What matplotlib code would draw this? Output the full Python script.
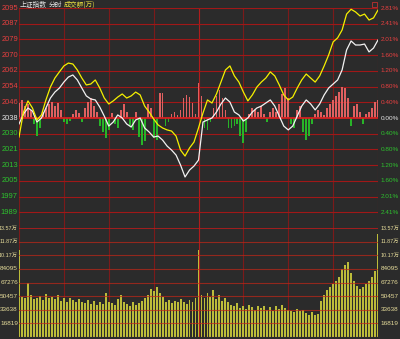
import numpy as np
import matplotlib
matplotlib.use("Agg")
import matplotlib.pyplot as plt
from matplotlib.transforms import blended_transform_factory
from matplotlib.patches import Rectangle

# ---------------- data ----------------
base_price = 2038.2
price_step = 8.18
left_labels = ["2095", "2087", "2079", "2070", "2062", "2054", "2046", "2038",
               "2030", "2021", "2013", "2005", "1997", "1989"]
right_labels = ["2.81%", "2.41%", "2.01%", "1.60%", "1.20%", "0.80%", "0.40%", "0.00%",
                "0.40%", "0.80%", "1.20%", "1.60%", "2.01%", "2.41%"]
vol_labels = ["13.57万", "11.87万", "10.17万", "84095", "67276", "50457", "33638", "16819"]
vol_top = 135750

line_minutes = list(range(0, 241, 3))
yellow_line = [
    2028.3, 2041.3, 2047.1, 2043.4, 2037.2, 2039.8, 2047.6, 2054.3, 2059.0, 2062.2,
    2065.3, 2066.8, 2066.3, 2063.2, 2059.0, 2055.4, 2055.9, 2058.0, 2053.8, 2048.6,
    2045.5, 2047.1, 2049.1, 2050.7, 2048.6, 2049.7, 2051.7, 2050.2, 2044.4, 2041.3,
    2037.7, 2034.6, 2033.0, 2032.0, 2031.4, 2028.8, 2021.5, 2018.4, 2022.6, 2025.7,
    2033.0, 2040.8, 2047.6, 2046.0, 2050.7, 2056.9, 2063.2, 2065.3, 2060.1, 2056.9,
    2051.7, 2047.1, 2050.2, 2054.3, 2056.9, 2059.0, 2062.2, 2060.1, 2055.4, 2050.2,
    2047.6, 2049.1, 2053.8, 2058.0, 2061.1, 2059.0, 2056.9, 2060.1, 2065.3, 2071.0,
    2077.8, 2079.9, 2084.0, 2092.3, 2094.8, 2093.4, 2091.3, 2092.3, 2089.2, 2090.3,
    2094.4]
white_line = [
    2035.1, 2040.3, 2043.4, 2041.8, 2036.1, 2038.2, 2043.4, 2048.6, 2051.7, 2053.8,
    2056.9, 2059.5, 2060.6, 2058.0, 2053.8, 2049.7, 2048.1, 2047.6, 2043.9, 2039.2,
    2034.0, 2036.1, 2039.8, 2038.2, 2035.1, 2033.5, 2037.2, 2038.2, 2033.0, 2030.9,
    2028.3, 2028.8, 2026.7, 2023.6, 2021.5, 2018.9, 2013.7, 2007.5, 2011.1, 2013.2,
    2016.3, 2036.1, 2037.2, 2038.2, 2041.3, 2045.5, 2048.6, 2046.5, 2041.3, 2039.8,
    2036.6, 2038.2, 2041.3, 2043.4, 2044.4, 2046.0, 2047.6, 2044.4, 2039.2, 2034.0,
    2032.0, 2034.0, 2039.2, 2044.4, 2047.6, 2045.5, 2042.4, 2045.5, 2050.2, 2053.8,
    2055.9, 2058.0, 2063.2, 2073.6, 2078.3, 2076.2, 2076.2, 2076.7, 2072.6, 2074.6,
    2078.8]

bar_minutes = list(range(0, 241, 2))
force_bars = [
    7.8, 9.4, 6.2, 7.3, 4.2, -3.1, -9.4, -5.2, 3.1, 5.2,
    7.3, 8.3, 6.2, 7.8, 4.2, -2.1, -3.1, -1.6, 2.1, 4.2,
    2.6, -2.1, 5.2, 8.3, 10.4, 6.2, 3.1, -4.2, -7.3, -10.4,
    -6.2, 2.6, -3.1, -5.2, 4.2, 7.3, 3.1, -4.2, -6.2, 3.1,
    -10.0, -14.0, -12.0, 7.3, 5.2, -10.4, -11.5, 13.0, 13.0, -4.2,
    -2.1, 2.1, 3.1, 1.6, 4.2, 10.4, 12.0, 11.0, 8.0, 2.1,
    18.2, 11.5, -5.2, -6.2, -2.1, 5.2, 11.5, 14.6, 10.4, 4.2,
    -5.2, -5.2, -4.2, -3.1, -9.4, -13.0, -7.3, 2.1, 5.2, 4.2,
    3.1, 6.2, 2.1, -2.1, 3.1, 5.2, 3.1, 7.3, 12.5, 15.6,
    10.4, -3.1, -5.2, 4.2, 6.2, -7.3, -11.5, -9.4, -3.1, 2.1,
    4.2, 3.1, 1.6, 5.2, 7.3, 9.4, 11.5, 13.5, 16.1, 15.6,
    10.4, -4.2, 6.2, 7.3, 3.1, -3.1, 2.1, 3.1, 5.2, 8.3,
    9.4]

volume = [v * 1000 for v in [
    108,
    50, 48, 67, 52, 47, 49, 51, 46, 53, 48,
    50, 47, 52, 45, 49, 44, 48, 46, 43, 47,
    44, 42, 46, 41, 45, 40, 43, 41, 55, 44,
    42, 40, 47, 52, 43, 41, 39, 44, 40, 42,
    45, 48, 52, 60, 57, 62, 55, 50, 44, 46,
    42, 45, 43, 47, 44, 41, 46, 43, 48,
    108,
    52, 48, 55, 50, 58, 47, 52, 45, 49, 44,
    40, 38, 42, 36, 39, 35, 40, 37, 34, 38,
    36, 39, 34, 37, 33, 38, 35, 40, 36, 34,
    33, 31, 35, 32, 34, 30, 28, 31, 27, 29,
    45, 52, 58, 62, 66, 70, 75, 85, 90, 93,
    80, 70, 64, 60, 62, 66, 70, 75, 82,
    128]]

# ---------------- style ----------------
BG = "#2b2b2b"
GRID_H = "#a01818"
GRID_V = "#7c1a1a"
RED_TXT = "#e84040"
GREEN_TXT = "#2ec22e"
WHITE_TXT = "#e6e6e6"
VOL_TXT = "#e6dc9a"
FONT = ["Liberation Sans", "Noto Sans CJK SC"]
FS_L = 5.4
FS_R = 4.6
FS_W = 3.9

W, H = 400, 339
fig = plt.figure(figsize=(W / 100, H / 100), dpi=100, facecolor=BG)

def fx(px):
    return px / W

def fy(py):
    return 1 - py / H

L, R = 19, 378
TOP, MID, BOT = 8, 228, 337

axp = fig.add_axes([fx(L), fy(MID), fx(R - L), (MID - TOP) / H])
axv = fig.add_axes([fx(L), fy(BOT), fx(R - L), (BOT - MID) / H])
for ax in (axp, axv):
    ax.set_facecolor(BG)
    ax.set_xlim(0, 240)
    ax.axis("off")

ylo = base_price - 7 * price_step
yhi = base_price + 7 * price_step
axp.set_ylim(ylo, yhi)
axv.set_ylim(0, vol_top)

# grid - price panel
for k in range(0, 9):
    xm = k * 30
    c = "#b01c1c" if k == 4 else GRID_V
    axp.axvline(xm, color=c, lw=0.8, zorder=1)
    axv.axvline(xm, color=c, lw=0.8, zorder=1)
for i in range(14):
    yv = yhi - i * price_step
    if i == 7:
        axp.axhline(yv, color="#d42020", lw=1.3, zorder=4)
    else:
        axp.axhline(yv, color=GRID_H, lw=0.8, zorder=1)

# force bars
bar_colors = ["#e06060" if v >= 0 else "#28b428" for v in force_bars]
axp.bar(bar_minutes, force_bars, bottom=base_price, width=1.2,
        color=bar_colors, linewidth=0, zorder=2)

# lines
axp.plot(line_minutes, white_line, color="#f2f2f2", lw=0.9, zorder=5)
axp.plot(line_minutes, yellow_line, color="#f5f000", lw=0.9, zorder=6)

# volume bars
vol_minutes = list(range(0, 241, 2))
axv.bar(vol_minutes, volume, width=1.3, color="#bcbc3a", linewidth=0, zorder=2)
for i in range(8):
    yv = vol_top - i * vol_top / 8
    lw = 1.4 if i == 0 else 0.8
    axv.axhline(yv, color="#b81c1c" if i == 0 else "#c02818", lw=lw,
                alpha=0.85 if i == 0 else 0.7, zorder=3)
axv.axhline(0, color=GRID_V, lw=0.8, zorder=3)

# labels
tp_l = blended_transform_factory(axp.transAxes, axp.transData)
tv_l = blended_transform_factory(axv.transAxes, axv.transData)
for i, lab in enumerate(left_labels):
    yv = yhi - i * price_step
    col = RED_TXT if i < 7 else (WHITE_TXT if i == 7 else GREEN_TXT)
    axp.text(-0.003, yv, lab, transform=tp_l, ha="right", va="center",
             color=col, fontsize=FS_L, family=FONT, clip_on=False)
    axp.text(1.007, yv, right_labels[i], transform=tp_l, ha="left", va="center",
             color=col, fontsize=FS_R, family=FONT, clip_on=False)
for i, lab in enumerate(vol_labels):
    yv = vol_top - i * vol_top / 8
    fs = FS_W if "万" in lab else FS_R
    axv.text(-0.003, yv, lab, transform=tv_l, ha="right", va="center",
             color=VOL_TXT, fontsize=fs, family=FONT, clip_on=False)
    axv.text(1.007, yv, lab, transform=tv_l, ha="left", va="center",
             color=VOL_TXT, fontsize=fs, family=FONT, clip_on=False)

# title
TFONT = ["Noto Sans CJK SC", "DejaVu Sans"]
fig.text(fx(20), fy(4.5), "上证指数", color=WHITE_TXT, fontsize=4.9, family=TFONT,
         ha="left", va="center")
fig.text(fx(49), fy(4.5), "分时", color=WHITE_TXT, fontsize=4.9, family=TFONT,
         ha="left", va="center")
fig.text(fx(64), fy(4.5), "成交额(万)", color="#e8e040", fontsize=4.9, family=TFONT,
         ha="left", va="center")

# small icon at top right
fig.patches.append(Rectangle((fx(372), fy(7)), fx(5), 5 / H, fill=False,
                             edgecolor="#c03030", lw=0.6, transform=fig.transFigure,
                             figure=fig))

fig.savefig("out.png", dpi=100, facecolor=BG)
